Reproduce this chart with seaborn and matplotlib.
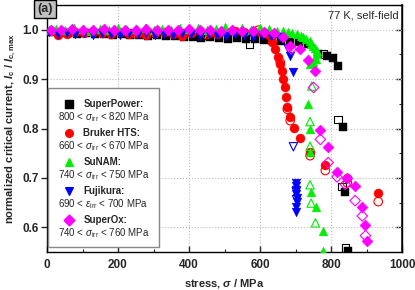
import numpy as np
import matplotlib
matplotlib.use("Agg")
import matplotlib.pyplot as plt
from matplotlib.patches import Rectangle
from matplotlib.ticker import MultipleLocator
import seaborn as sns

# ------------------------------------------------------------------
# data (stress in MPa, normalised Ic)
# ------------------------------------------------------------------
sp_x = [10, 35, 60, 85, 110, 135, 160, 185, 210, 235, 260, 285, 310, 335, 360,
        385, 410, 435, 460, 485, 510, 535, 560, 585, 610, 635, 660, 685, 710, 735,
        764, 789, 806, 820, 834, 840, 849]
sp_y = [0.995, 0.993, 0.994, 0.992, 0.993, 0.991, 0.992, 0.990, 0.991, 0.989,
        0.990, 0.988, 0.989, 0.987, 0.988, 0.985, 0.986, 0.984, 0.985, 0.983,
        0.982, 0.983, 0.981, 0.982, 0.980, 0.979, 0.978, 0.976, 0.975, 0.972,
        0.951, 0.947, 0.942, 0.926, 0.804, 0.672, 0.552]
sp_open_x = [100, 300, 450, 570, 650, 778, 820, 831, 840]
sp_open_y = [0.995, 0.992, 0.988, 0.971, 0.978, 0.951, 0.818, 0.682, 0.558]

br_x = [10, 30, 55, 80, 105, 130, 155, 180, 205, 230, 255, 280, 305, 330, 355,
        380, 405, 430, 455, 480, 505, 530, 555, 580, 600, 615, 625,
        634, 643, 651, 657, 663, 665, 671, 674, 677, 685, 696, 713, 741, 784, 846, 933]
br_y = [0.998, 0.990, 0.992, 0.995, 0.993, 0.996, 0.994, 0.992, 0.995, 0.991,
        0.994, 0.989, 0.993, 0.995, 0.992, 0.988, 0.994, 0.996, 0.993, 0.991,
        0.995, 0.997, 0.995, 0.998, 0.996, 0.994, 0.990,
        0.975, 0.961, 0.945, 0.930, 0.916, 0.900, 0.884, 0.863, 0.843, 0.823,
        0.802, 0.780, 0.753, 0.727, 0.700, 0.670]
br_open_x = [250, 450, 595, 657, 677, 685, 741, 784, 846, 933]
br_open_y = [0.992, 0.990, 0.999, 0.934, 0.839, 0.816, 0.745, 0.715, 0.690, 0.652]

sn_x = [5, 25, 50, 75, 100, 125, 150, 175, 200, 225, 250, 275, 300, 325, 350,
        375, 400, 425, 450, 475, 500, 525, 550, 575, 600, 625, 648, 665, 679, 690,
        705, 715, 722, 730, 741, 745, 750, 755, 761, 760, 758, 750, 741,
        736, 741, 741, 744, 758, 778, 778]
sn_y = [1.000, 1.002, 0.999, 1.003, 1.001, 0.998, 1.002, 1.000, 1.003, 0.999,
        1.001, 1.004, 1.000, 1.002, 0.999, 1.003, 1.001, 1.004, 1.000, 1.002,
        1.005, 1.001, 1.003, 1.000, 1.004, 1.002, 0.997, 0.998, 0.995, 0.993,
        0.991, 0.988, 0.985, 0.982, 0.977, 0.972, 0.967, 0.962, 0.957, 0.950,
        0.940, 0.935, 0.930,
        0.849, 0.798, 0.753, 0.672, 0.641, 0.593, 0.552]
sn_open_x = [746, 741, 741, 741, 744, 756]
sn_open_y = [0.886, 0.814, 0.764, 0.686, 0.649, 0.609]

fj_x = [5, 30, 55, 80, 105, 130, 155, 180, 205, 230, 255, 280, 305, 330, 355,
        380, 405, 430, 455, 480, 505, 530, 555, 580, 605, 630, 655,
        685, 694, 700, 701, 702, 702, 703, 703, 702, 701]
fj_y = [0.995, 0.992, 0.994, 0.991, 0.993, 0.990, 0.994, 0.992, 0.989, 0.993,
        0.991, 0.994, 0.990, 0.992, 0.989, 0.993, 0.991, 0.988, 0.992, 0.990,
        0.987, 0.991, 0.989, 0.986, 0.990, 0.988, 0.986,
        0.947, 0.914, 0.690, 0.684, 0.676, 0.668, 0.660, 0.652, 0.641, 0.631]
fj_open_x = [680, 694, 702, 703]
fj_open_y = [0.961, 0.763, 0.672, 0.656]

so_x = [10, 40, 70, 100, 130, 160, 190, 220, 250, 280, 310, 340, 370, 400, 430,
        460, 490, 520, 550, 580, 610, 640, 665, 685,
        713, 736, 756, 770, 792, 817, 846, 868, 888, 897, 902]
so_y = [1.000, 0.999, 1.001, 0.999, 1.000, 1.001, 0.999, 1.000, 0.999, 1.001,
        1.000, 0.999, 1.000, 1.001, 0.999, 1.000, 0.998, 0.999, 0.997, 0.998,
        0.996, 0.993, 0.985, 0.967,
        0.961, 0.939, 0.916, 0.796, 0.763, 0.711, 0.700, 0.684, 0.641, 0.605, 0.572]
so_open_x = [688, 751, 770, 792, 817, 840, 868, 888, 897]
so_open_y = [0.961, 0.883, 0.778, 0.731, 0.702, 0.687, 0.654, 0.623, 0.583]

names = ["SuperPower:", "Bruker HTS:", "SuNAM:", "Fujikura:", "SuperOx:"]
ranges = [r"800 < $\mathit{\sigma}_{\mathrm{irr}}$ < 820 MPa",
          r"660 < $\mathit{\sigma}_{\mathrm{irr}}$ < 670 MPa",
          r"740 < $\mathit{\sigma}_{\mathrm{irr}}$ < 750 MPa",
          r"690 < $\mathit{\varepsilon}_{\mathrm{irr}}$ < 700 MPa",
          r"740 < $\mathit{\sigma}_{\mathrm{irr}}$ < 760 MPa"]
colors = ["#000000", "#ff0000", "#00ee00", "#0000ff", "#ff00ff"]
markers = ["s", "o", "^", "v", "D"]
sizes = [30, 42, 40, 40, 32]

# ------------------------------------------------------------------
sns.set_theme(style="ticks")
plt.rcParams["font.family"] = ["Liberation Sans", "DejaVu Sans"]
plt.rcParams["mathtext.fontset"] = "custom"
plt.rcParams["mathtext.rm"] = "Liberation Sans"
plt.rcParams["mathtext.it"] = "Liberation Sans:italic"
plt.rcParams["mathtext.bf"] = "Liberation Sans:bold"
plt.rcParams["mathtext.bfit"] = "Liberation Sans:bold:italic"

fig = plt.figure(figsize=(4.15, 2.9), dpi=100)
ax = fig.add_axes([47 / 415, 38 / 290, 355 / 415, 247 / 290])

series = [(sp_x, sp_y, sp_open_x, sp_open_y),
          (br_x, br_y, br_open_x, br_open_y),
          (sn_x, sn_y, sn_open_x, sn_open_y),
          (fj_x, fj_y, fj_open_x, fj_open_y),
          (so_x, so_y, so_open_x, so_open_y)]

for (fx, fy, ox, oy), col, mk, sz in zip(series, colors, markers, sizes):
    sns.scatterplot(x=fx, y=fy, marker=mk, s=sz, color=col, edgecolor=col,
                    linewidth=0.3, ax=ax, zorder=3, clip_on=True)
    sns.scatterplot(x=ox, y=oy, marker=mk, s=sz * 0.9, facecolors="none",
                    edgecolor=col, linewidth=0.8, ax=ax, zorder=3)

ax.set_xlim(0, 1000)
ax.set_ylim(0.55, 1.05)
ax.xaxis.set_major_locator(MultipleLocator(200))
ax.xaxis.set_minor_locator(MultipleLocator(100))
ax.set_yticks([0.6, 0.7, 0.8, 0.9, 1.0])
ax.set_yticklabels(["0.6", "0.7", "0.8", "0.9", "1.0"])
ax.grid(True, which="major", linestyle=":", color="#bbbbbb", linewidth=0.8)
ax.set_axisbelow(True)

for s in ax.spines.values():
    s.set_linewidth(1.0)
    s.set_color("black")

ax.tick_params(axis="x", which="major", direction="in", length=4, width=1,
               labelsize=8.5, pad=5)
ax.tick_params(axis="x", which="minor", direction="in", length=2, width=0.8)
ax.tick_params(axis="y", which="major", direction="out", length=4, width=1,
               labelsize=8.5, pad=2)
for lab in ax.get_xticklabels() + ax.get_yticklabels():
    lab.set_fontweight("bold")

sec = ax.secondary_yaxis("right")
sec.set_yticks([0.6, 0.7, 0.8, 0.9, 1.0])
sec.yaxis.set_minor_locator(MultipleLocator(0.05))
sec.tick_params(which="major", direction="in", length=4, width=1, labelright=False)
sec.tick_params(which="minor", direction="in", length=2, width=0.8)

ax.set_xlabel(r"stress, $\mathbfit{\sigma}$ / MPa", fontsize=8, fontweight="bold",
              labelpad=4)
ax.set_ylabel(r"normalized critical current, $\mathbfit{I}_{\mathbf{c}}$ / "
              r"$\mathbfit{I}_{\mathbf{c,max}}$",
              fontsize=8, fontweight="bold", labelpad=3)

ax.text(0.99, 0.957, "77 K, self-field", transform=ax.transAxes, ha="right",
        va="center", fontsize=8)

# legend box drawn by hand (marker + bold name, range centred below)
ax.add_patch(Rectangle((0.003, 0.02), 0.312, 0.644, transform=ax.transAxes,
                       facecolor="white", edgecolor="#888888", linewidth=1.0,
                       zorder=5))
top = 0.599
step = 29 / 247
for i, (nm, rg, col, mk) in enumerate(zip(names, ranges, colors, markers)):
    yy = top - i * step
    ax.scatter([0.062], [yy], marker=mk, s=30, color=col, transform=ax.transAxes,
               zorder=6, clip_on=False)
    ax.text(0.102, yy, nm, transform=ax.transAxes, ha="left", va="center",
            fontsize=7, fontweight="bold", zorder=6)
    ax.text(0.159, yy - 13 / 247, rg, transform=ax.transAxes, ha="center",
            va="center", fontsize=7, zorder=6)

fig.text(45 / 415, 1 - 9 / 290, "(a)", ha="center", va="center", fontsize=9,
         fontweight="bold",
         bbox=dict(boxstyle="square,pad=0.25", facecolor="#c0c0c0",
                   edgecolor="black", linewidth=1.0))

fig.savefig("out.png", dpi=100)
